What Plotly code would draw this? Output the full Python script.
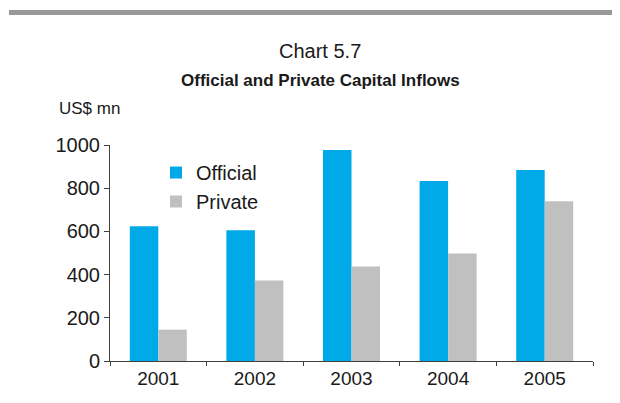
import plotly.graph_objects as go

years = ["2001", "2002", "2003", "2004", "2005"]
official = [624, 605, 977, 833, 884]
private = [145, 373, 438, 498, 740]
y_ticks = [0, 200, 400, 600, 800, 1000]

# page body margin of 8px is compensated by shrinking the figure
OFF = 8
W, H = 620 - OFF, 403 - OFF
L, R, T, B = 110 - OFF, 27, 145 - OFF, 42
pw, ph = W - L - R, H - T - B

def px(x):  # reference-screen x pixel -> paper
    return (x - 110) / pw

def py(y):  # reference-screen y pixel -> paper
    return (361 - y) / ph

fig = go.Figure()
fig.add_trace(go.Bar(x=years, y=official, name="Official", marker_color="#00AAE8",
                     marker_line_width=0, legendgroup="a"))
fig.add_trace(go.Bar(x=years, y=private, name="Private", marker_color="#C0C0C0",
                     marker_line_width=0, legendgroup="b"))

font_main = "Liberation Sans, Arial, sans-serif"
font_narrow = "Liberation Sans Narrow, Arial Narrow, Liberation Sans, sans-serif"

fig.update_layout(
    width=W, height=H,
    margin=dict(l=L, r=R, t=T, b=B),
    paper_bgcolor="white", plot_bgcolor="white",
    barmode="group", bargap=0.41, bargroupgap=0,
    font=dict(family=font_main, size=19, color="#1a1a1a"),
    showlegend=True,
    legend=dict(x=px(156), y=py(153), xanchor="left", yanchor="top",
                bgcolor="rgba(0,0,0,0)", font=dict(size=20, color="#1a1a1a"),
                traceorder="grouped", tracegroupgap=0),
    xaxis=dict(type="category", showline=True, linecolor="#404040", linewidth=1,
               ticks="outside", ticklen=4, tickcolor="#404040", tickson="boundaries",
               showgrid=False, tickfont=dict(size=19, color="#1a1a1a")),
    yaxis=dict(range=[0, 1000], tickvals=y_ticks, showline=True, linecolor="#404040",
               linewidth=1, ticks="outside", ticklen=5, tickcolor="#404040",
               showgrid=False, zeroline=False, tickfont=dict(size=20, color="#1a1a1a")),
    shapes=[dict(type="line", xref="paper", yref="paper", x0=px(9), x1=px(625),
                 y0=py(12.5), y1=py(12.5), line=dict(color="#999999", width=5))],
    annotations=[
        dict(text="Chart 5.7", xref="paper", yref="paper", x=px(320), y=py(51),
             xanchor="center", yanchor="middle", showarrow=False,
             font=dict(family=font_narrow, size=20, color="#1a1a1a")),
        dict(text="<b>Official and Private Capital Inflows</b>", xref="paper", yref="paper",
             x=px(320), y=py(80), xanchor="center", yanchor="middle", showarrow=False,
             font=dict(family=font_narrow, size=17, color="#1a1a1a")),
        dict(text="US$ mn", xref="paper", yref="paper", x=px(57), y=py(108),
             xanchor="left", yanchor="middle", showarrow=False,
             font=dict(family=font_narrow, size=17, color="#1a1a1a")),
    ],
)

fig.write_html("out.html")
